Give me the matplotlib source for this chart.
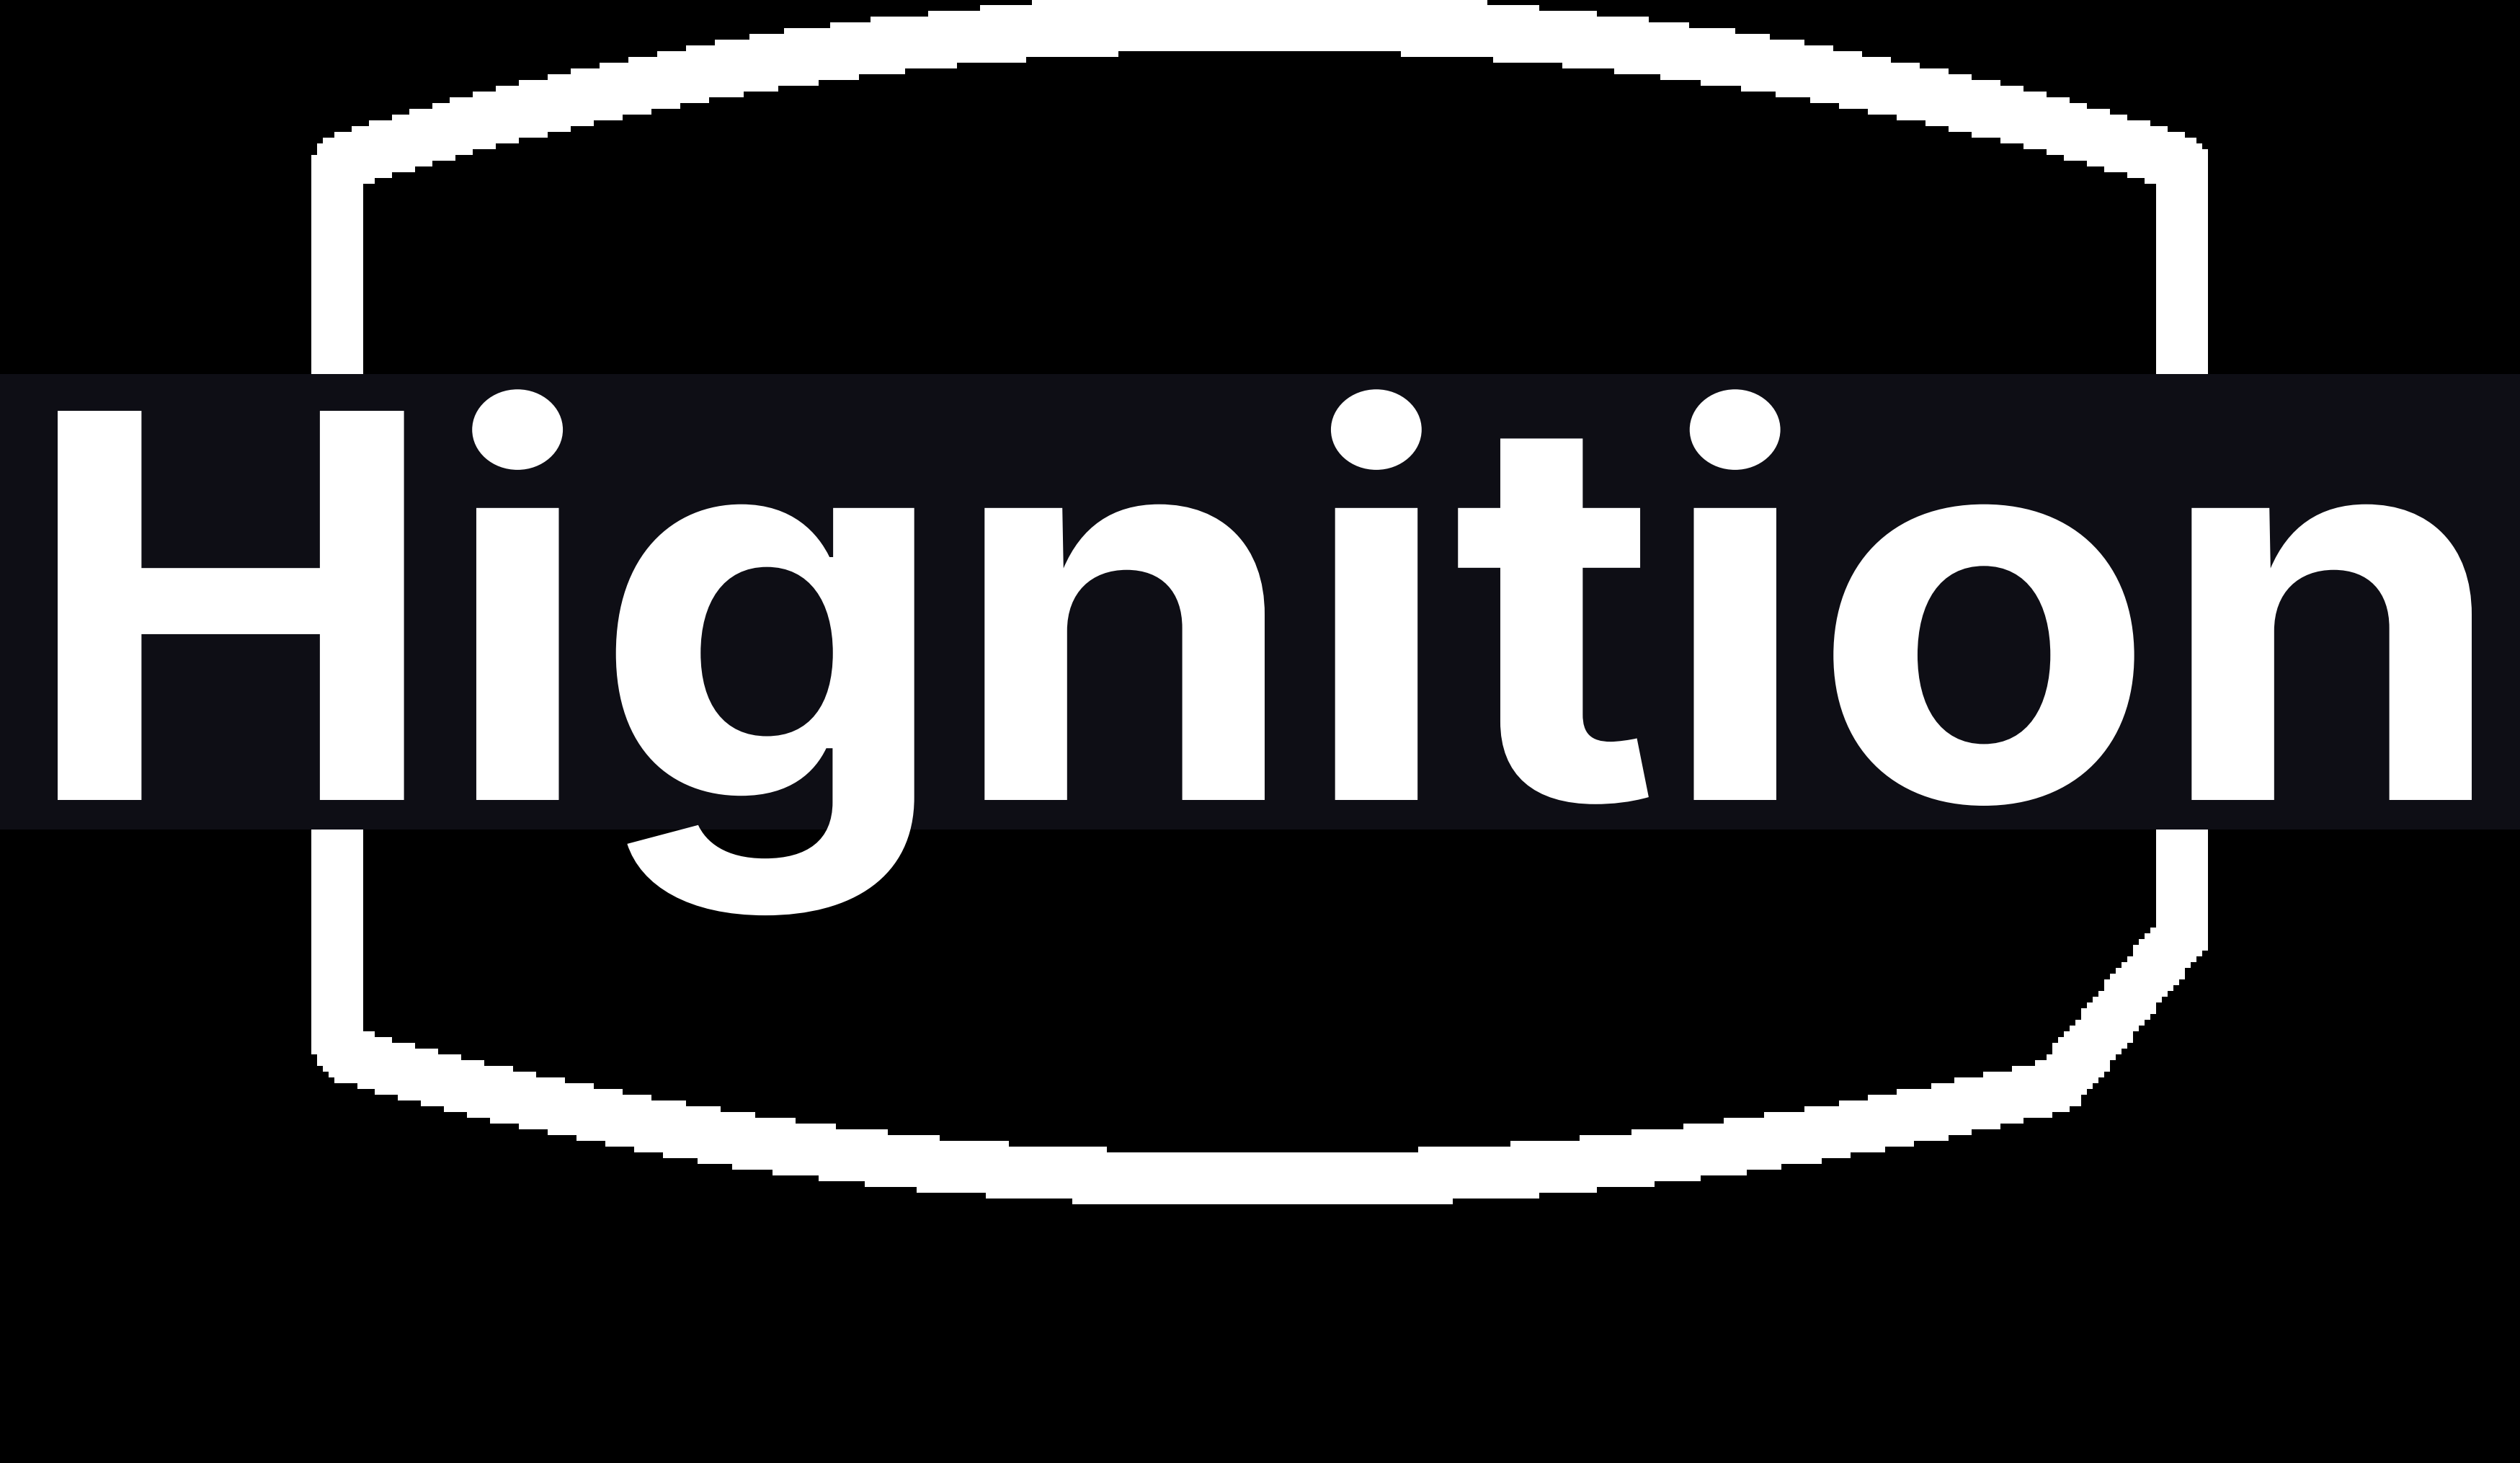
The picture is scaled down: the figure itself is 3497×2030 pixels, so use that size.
import numpy as np
import matplotlib
matplotlib.use("Agg")
import matplotlib.pyplot as plt
from matplotlib.path import Path
from matplotlib.textpath import TextPath
from matplotlib.font_manager import FontProperties
from matplotlib.patheffects import AbstractPathEffect
from matplotlib.transforms import Affine2D

W, H = 3497, 2031
DPI = 100
CELL = 8  # the badge outline is drawn on a coarse pixel grid

WORD = "Hignition"
WORD_LEFT, WORD_RIGHT, BASELINE = 80, 3430, 1111
WORD_SQUASH = 0.95  # the logo lettering is a bit lower than Inter
BAND_TOP, BAND_BOTTOM = 520, 1152

# badge outline in image pixels (y grows downwards)
outer_top_x = [431, 437, 455, 496, 576, 663, 800, 960, 1104, 1225, 1383, 1504]
outer_top_y = [236, 210, 192, 178, 154, 130, 98, 66, 42, 26, 10, -4]
outer_bottom_x = [3066, 2880, 2847, 2775, 2702, 2615, 2527, 2422, 2294, 2134,
                  2014, 2014, 1488, 1488, 1368, 1271, 1201, 1135, 1072, 968,
                  880, 800, 720, 648, 584, 521, 464, 448, 440, 431]
outer_bottom_y = [1310, 1538, 1548, 1564, 1580, 1596, 1612, 1628, 1644, 1660,
                  1668, 1673, 1673, 1668, 1660, 1652, 1644, 1636, 1628, 1612,
                  1596, 1580, 1564, 1548, 1532, 1516, 1500, 1484, 1468, 1460]

inner_top_x = [503, 521, 545, 576, 632, 688, 760, 824, 905, 984, 1080, 1192,
               1328, 1425, 1552, 1552]
inner_top_y = [260, 252, 244, 236, 220, 204, 188, 172, 156, 140, 124, 108,
               92, 84, 76, 72]
inner_bottom_x = [2994, 2840, 2824, 2792, 2752, 2711, 2678, 2630, 2590, 2551,
                  2503, 2446, 2391, 2334, 2263, 2191, 2095, 1967, 1967, 1537,
                  1537, 1400, 1304, 1232, 1159, 1104, 1047, 999, 953, 905,
                  863, 824, 784, 744, 712, 672, 639, 608, 576, 545, 521, 503]
inner_bottom_y = [1278, 1466, 1476, 1484, 1492, 1500, 1508, 1516, 1524, 1532,
                  1540, 1548, 1556, 1564, 1572, 1580, 1588, 1596, 1600, 1600,
                  1596, 1588, 1580, 1572, 1564, 1556, 1548, 1540, 1532, 1524,
                  1516, 1508, 1500, 1492, 1484, 1476, 1468, 1460, 1452, 1444,
                  1436, 1432]


class Squash(AbstractPathEffect):
    """Scale glyphs vertically about the baseline."""

    def __init__(self, sy):
        super().__init__()
        self.sy = sy

    def draw_path(self, renderer, gc, tpath, affine, rgbFace=None):
        renderer.draw_path(gc, tpath, Affine2D().scale(1, self.sy) + affine, rgbFace)


def badge_polygon(top_x, top_y, bottom_x, bottom_y):
    left = list(zip(top_x, top_y))
    right = [(W - x, y) for x, y in reversed(left)]
    return np.array(left + right + list(zip(bottom_x, bottom_y)), float)


outer = Path(badge_polygon(outer_top_x, outer_top_y, outer_bottom_x, outer_bottom_y))
inner = Path(badge_polygon(inner_top_x, inner_top_y, inner_bottom_x, inner_bottom_y))

nx, ny = int(np.ceil(W / CELL)), int(np.ceil(H / CELL))
gx, gy = np.meshgrid((np.arange(nx) + 0.5) * CELL, (np.arange(ny) + 0.5) * CELL)
pts = np.column_stack([gx.ravel(), gy.ravel()])
ring = outer.contains_points(pts) & ~inner.contains_points(pts)
img = np.zeros((ny, nx, 4))
img[ring.reshape(ny, nx)] = (1, 1, 1, 1)

fig = plt.figure(figsize=(W / DPI, H / DPI), dpi=DPI)
fig.patch.set_facecolor("black")
ax = fig.add_axes([0, 0, 1, 1])
ax.set_facecolor("black")
ax.imshow(img, extent=(0, nx * CELL, ny * CELL, 0), interpolation="nearest",
          aspect="auto", zorder=1)
ax.axhspan(BAND_TOP, BAND_BOTTOM, color="#0e0e15", lw=0, zorder=2)

# size the word so its ink spans the same width as in the logo
prop = FontProperties(family="Inter", weight="bold")
ink = TextPath((0, 0), WORD, size=100, prop=prop).get_extents()
px_per_pt = DPI / 72
scale = (WORD_RIGHT - WORD_LEFT) / (ink.width * px_per_pt)
x0 = WORD_LEFT - ink.x0 * scale * px_per_pt

ax.text(x0, BASELINE, WORD, fontproperties=prop, fontsize=100 * scale,
        color="white", ha="left", va="baseline", zorder=3,
        path_effects=[Squash(WORD_SQUASH)])
ax.set_xlim(0, W)
ax.set_ylim(H, 0)
ax.axis("off")

fig.savefig("out.png", dpi=DPI, facecolor="black")
